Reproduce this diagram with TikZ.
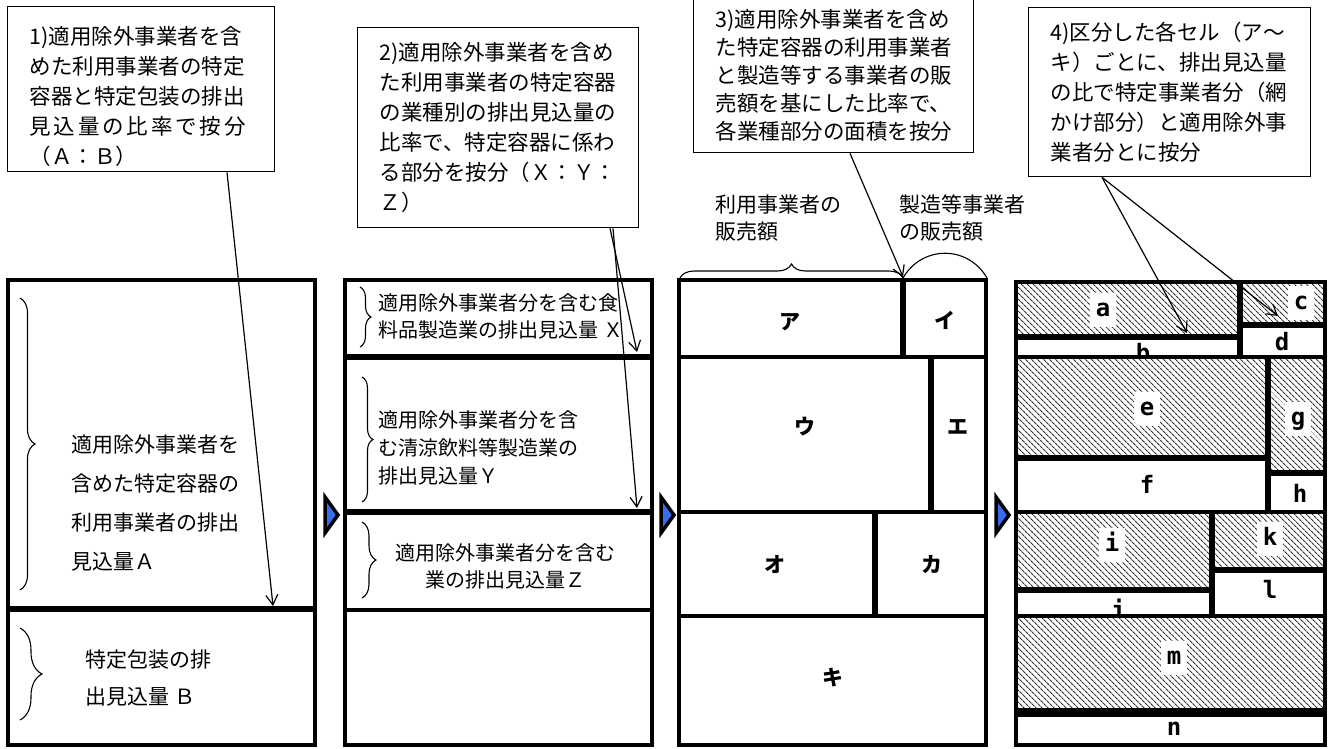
\documentclass[tikz,border=0pt]{standalone}
\usepackage{fontspec}
\setmainfont{Noto Sans CJK JP}
\newfontfamily\cellfont{DejaVu Sans Mono}
\usepackage{xcolor}
\usetikzlibrary{arrows.meta, positioning, decorations.pathreplacing, patterns.meta}
\definecolor{markblue}{HTML}{3A6CF2}

\begin{document}
\begin{tikzpicture}[x=1pt, y=-1pt,
  callout/.style={rectangle, draw=black, line width=1.3pt, fill=white, anchor=north west,
    inner xsep=22pt, align=left, font=\fontsize{21.5}{30}\selectfont},
  wall/.style={line width=4pt},
  split/.style={line width=6pt},
  lbl/.style={font=\fontsize{20}{27}\selectfont, align=left, anchor=west},
  kana/.style={font=\fontsize{21}{22}\selectfont\bfseries},
  cell/.style={font=\cellfont\bfseries\fontsize{24}{24}\selectfont, inner xsep=6pt, inner ysep=6pt,
    text height=17pt, text depth=5pt},
  hcell/.style={cell, fill=white},
  hatch/.style={pattern={Lines[angle=-45, distance=4pt, line width=1.2pt]}, pattern color=black!80},
  pointer/.style={-{Straight Barb[length=10pt, width=12pt]}, line width=1.2pt},
  brc/.style={decorate, decoration={brace, amplitude=#1}, line width=1.1pt},
  nextmark/.style={fill=markblue, draw=black, line width=3.5pt, line join=miter},
]
\useasboundingbox (0,0) rectangle (1332,748);

% callouts
\node[callout, minimum height=165pt, text width=223pt] (c1) at (7,6)
  {\rule{0pt}{33pt}1)適用除外事業者を含\\めた利用事業者の特定\\容器と特定包装の排出\\\makebox[216pt][s]{見\hfil 込\hfil 量\hfil の\hfil 比\hfil 率\hfil で\hfil 按\hfil 分}\\（Ａ：Ｂ）};
\node[callout, minimum height=200pt, text width=237pt] (c2) at (357,27)
  {2)適用除外事業者を含め\\た利用事業者の特定容器\\の業種別の排出見込量の\\比率で、特定容器に係わ\\る部分を按分（Ｘ：Ｙ：\\Ｚ）};
\node[callout, minimum height=154pt, text width=236pt, font=\fontsize{21.5}{28}\selectfont] (c3) at (693,-2)
  {3)適用除外事業者を含め\\た特定容器の利用事業者\\と製造等する事業者の販\\売額を基にした比率で、\\各業種部分の面積を按分};
\node[callout, minimum height=169pt, text width=238pt] (c4) at (1028,7)
  {4)区分した各セル（ア～\\キ）ごとに、排出見込量\\の比で特定事業者分（網\\かけ部分）と適用除外事\\業者分とに按分};

% column 1
\draw[wall] (8,280) rectangle (315,745);
\draw[split] (8,609) -- (315,609);
\draw[brc=15pt] (20,298) -- (20,590);
\draw[brc=22pt] (20,628) -- (20,720);
\node[lbl, font=\fontsize{21}{39}\selectfont] (atext) at (68,503) {適用除外事業者を\\含めた特定容器の\\利用事業者の排出\\見込量Ａ};
\node[lbl, font=\fontsize{21}{37}\selectfont] (btext) at (82,678) {特定包装の排\\出見込量 Ｂ};

% column 2
\draw[wall] (345,280) rectangle (652,745);
\draw[split] (345,357) -- (652,357);
\draw[split] (345,512) -- (652,512);
\draw[wall] (345,610) -- (652,610);
\draw[brc=11pt] (360,287) -- (360,347);
\draw[brc=11pt] (362,377) -- (362,502);
\draw[brc=14pt] (362,522) -- (362,598);
\node[lbl] (xtext) at (375,316) {適用除外事業者分を含む食\\料品製造業の排出見込量 Ｘ};
\node[lbl, font=\fontsize{20}{28}\selectfont] (ytext) at (375,448) {適用除外事業者分を含\\む清涼飲料等製造業の\\排出見込量Ｙ};
\node[font=\fontsize{20}{27}\selectfont, align=center] (ztext) at (505,566) {適用除外事業者分を含む\\業の排出見込量Ｚ};

% column 3
\draw[wall] (679,280) rectangle (986,745);
\draw[wall] (679,357) -- (986,357);
\draw[wall] (679,512) -- (986,512);
\draw[wall] (679,616) -- (986,616);
\draw[split] (903,280) -- (903,357);
\draw[split] (931,357) -- (931,512);
\draw[split] (875,512) -- (875,616);
\node[kana] (ka) at (790,322) {ア};
\node[kana] (ki) at (945,320) {イ};
\node[kana] (ku) at (805,427) {ウ};
\node[kana] (ke) at (958,427) {エ};
\node[kana] (ko) at (775,565) {オ};
\node[kana] (kka) at (932,565) {カ};
\node[kana] (kki) at (833,678) {キ};
\draw[brc=14pt] (680,278) -- (903,278);
\draw[line width=1.1pt] (903,278) .. controls (922,245) and (968,245) .. (987,278);
\node[lbl, font=\fontsize{21}{27}\selectfont] (usr) at (712,218) {利用事業者の\\販売額};
\node[lbl, font=\fontsize{21}{27}\selectfont] (mfr) at (896,218) {製造等事業者\\の販売額};

% column 4
\fill[hatch] (1016,282) rectangle (1240,337);
\fill[hatch] (1240,282) rectangle (1325,325);
\fill[hatch] (1016,357) rectangle (1268,458);
\fill[hatch] (1268,357) rectangle (1325,473);
\fill[hatch] (1016,512) rectangle (1212,590);
\fill[hatch] (1212,512) rectangle (1325,570);
\fill[hatch] (1016,616) rectangle (1325,712);
\node[hcell] (la) at (1103,310) {a};
\begin{scope}
  \clip (1016,340) rectangle (1240,357);
  \node[cell, anchor=base] (lb) at (1143,361) {b};
\end{scope}
\node[hcell] (lc) at (1301,303) {c};
\node[cell] (ld) at (1282,344) {d};
\node[hcell] (le) at (1147,409) {e};
\node[cell] (lf) at (1147,487) {f};
\node[hcell] (lg) at (1298,419) {g};
\node[cell] (lh) at (1300,496) {h};
\node[hcell] (li) at (1112,545) {i};
\begin{scope}
  \clip (1016,592) rectangle (1212,616);
  \node[cell, anchor=base] (lj) at (1118,618) {j};
\end{scope}
\node[hcell] (lk) at (1270,539) {k};
\node[cell] (ll) at (1270,592) {l};
\node[hcell] (lm) at (1174,658) {m};
\node[cell] (ln) at (1174,729) {n};
\draw[wall] (1016,282) rectangle (1325,745);
\draw[wall] (1016,357) -- (1325,357);
\draw[wall] (1016,512) -- (1325,512);
\draw[wall] (1016,616) -- (1325,616);
\draw[split] (1240,282) -- (1240,357);
\draw[split] (1268,357) -- (1268,512);
\draw[split] (1212,512) -- (1212,616);
\draw[split] (1016,337) -- (1240,337);
\draw[split] (1240,325) -- (1325,325);
\draw[split] (1016,458) -- (1268,458);
\draw[split] (1268,473) -- (1325,473);
\draw[split] (1016,590) -- (1212,590);
\draw[split] (1212,570) -- (1325,570);
\draw[line width=9pt] (1016,712) -- (1325,712);

% markers between columns
\filldraw[nextmark] (325,497) -- (338,515) -- (325,533) -- cycle;
\filldraw[nextmark] (661,497) -- (674,515) -- (661,533) -- cycle;
\filldraw[nextmark] (996,497) -- (1009,515) -- (996,533) -- cycle;

% pointers
\coordinate (t1) at (273,606);
\coordinate (tx) at (637,352);
\coordinate (ty) at (637,508);
\coordinate (t3) at (903,277);
\coordinate (ta) at (1187,333);
\coordinate (tc) at (1278,316);
\draw[pointer] ([xshift=220pt]c1.south west) -- (t1);
\draw[pointer] ([xshift=253pt]c2.south west) -- (tx);
\draw[pointer] ([xshift=256pt]c2.south west) -- (ty);
\draw[pointer] ([xshift=157pt]c3.south west) -- (t3);
\draw[pointer] ([xshift=74pt]c4.south west) -- (ta);
\draw[pointer] ([xshift=74pt]c4.south west) -- (tc);
\end{tikzpicture}
\end{document}
